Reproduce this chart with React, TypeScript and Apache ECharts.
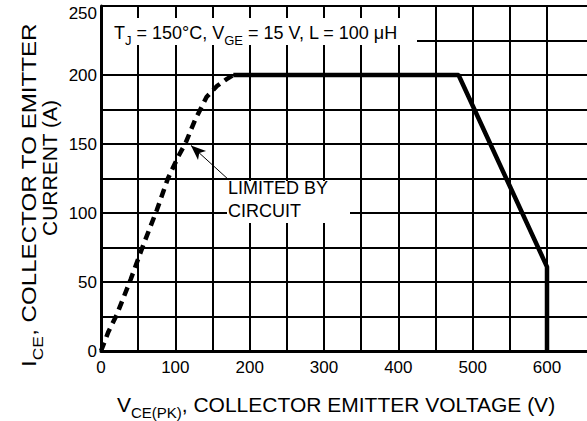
import React, { useEffect, useRef } from 'react';
import * as echarts from 'echarts';

// Circuit-limited (dashed) boundary, V_CE (V) vs I_CE (A)
const circuitLimitV = [0, 10, 21, 40, 57, 75, 90, 104, 114, 127, 142, 156, 169, 178];
const circuitLimitI = [0, 14, 26, 52, 77, 102, 125, 141, 151, 168, 184, 192, 197, 200];
// RBSOA (solid) boundary
const rbsoaV = [178, 481, 600, 600];
const rbsoaI = [200, 200, 61, 0];

const xMin = 0;
const xMax = 600;
const xStep = 50;
const xLabelStep = 100;
const yMin = 0;
const yMax = 250;
const yStep = 25;
const yLabelStep = 50;

const arrowFrom = [172, 124];
const arrowTo = [121, 149];

const FONT = '"Liberation Sans", Arial, Helvetica, sans-serif';

export default function App() {
  const ref = useRef<HTMLDivElement>(null);
  useEffect(() => {
    const chart = echarts.init(ref.current!, null, { renderer: 'svg' });
    const zip = (a: number[], b: number[]) => a.map((v, i) => [v, b[i]]);
    const sub = (fs: number, lh: number) => ({
      fontSize: fs,
      fontFamily: FONT,
      fill: '#000',
      verticalAlign: 'bottom',
      lineHeight: lh,
    });
    const textEl = (
      x: number,
      y: number,
      text: string,
      fs: number,
      align: string,
      rich: any,
      rotation = 0,
      scaleX = 1
    ) => {
      const style: any = {
        text,
        fontSize: fs,
        fontFamily: FONT,
        fill: '#000',
        align,
        verticalAlign: 'middle',
      };
      if (rich) style.rich = rich;
      return { type: 'text', x, y, rotation, scaleX, z: 51, silent: true, style };
    };
    const option: any = {
      animation: false,
      backgroundColor: '#fff',
      grid: [
        { left: 101, right: 40, top: 6, bottom: 70 },
        { left: 547, right: 0, top: 6, bottom: 70 },
      ],
      xAxis: [
        {
          type: 'value',
          gridIndex: 0,
          min: xMin,
          max: xMax,
          interval: xStep,
          axisLine: { show: true, lineStyle: { color: '#000', width: 3 } },
          axisTick: { show: false },
          splitLine: { show: true, lineStyle: { color: '#000', width: 2 } },
          axisLabel: {
            color: '#000',
            fontSize: 17,
            fontFamily: FONT,
            margin: 8,
            formatter: (v: number) => (v % xLabelStep === 0 ? String(v) : ''),
          },
        },
        {
          type: 'value',
          gridIndex: 1,
          min: 0,
          max: 1,
          axisLine: { show: true, lineStyle: { color: '#000', width: 3 } },
          axisTick: { show: false },
          axisLabel: { show: false },
          splitLine: { show: false },
        },
      ],
      yAxis: [
        {
          type: 'value',
          gridIndex: 0,
          min: yMin,
          max: yMax,
          interval: yStep,
          axisLine: { show: true, lineStyle: { color: '#000', width: 3 } },
          axisTick: { show: false },
          splitLine: { show: true, lineStyle: { color: '#000', width: 2 } },
          axisLabel: {
            color: '#000',
            fontSize: 17,
            fontFamily: FONT,
            margin: 4,
            formatter: (v: number) =>
              v % yLabelStep === 0 ? (v === yMax ? '{top|' + v + '}' : String(v)) : '',
            rich: { top: { fontSize: 17, fontFamily: FONT, color: '#000', padding: [14, 0, 0, 0] } },
          },
        },
        {
          type: 'value',
          gridIndex: 1,
          min: yMin,
          max: yMax,
          interval: yStep,
          axisLine: { show: false },
          axisTick: { show: false },
          axisLabel: { show: false },
          splitLine: { show: true, lineStyle: { color: '#000', width: 2 } },
        },
      ],
      series: [
        {
          type: 'line',
          xAxisIndex: 0,
          yAxisIndex: 0,
          data: zip(circuitLimitV, circuitLimitI),
          showSymbol: false,
          z: 5,
          lineStyle: { color: '#000', width: 4.5, type: [9, 6] },
          markLine: {
            silent: true,
            symbol: ['none', 'arrow'],
            symbolSize: [9, 15],
            label: { show: false },
            lineStyle: { color: '#000', width: 1, type: 'solid' },
            data: [[{ coord: arrowFrom }, { coord: arrowTo }]],
          },
        },
        {
          type: 'line',
          xAxisIndex: 0,
          yAxisIndex: 0,
          data: zip(rbsoaV, rbsoaI),
          showSymbol: false,
          z: 5,
          lineStyle: { color: '#000', width: 4.5 },
        },
      ],
      graphic: [
        { type: 'rect', z: 50, silent: true, shape: { x: 103, y: 18, width: 314, height: 27 }, style: { fill: '#fff' } },
        textEl(114, 33, 'T{sub|J} = 150°C, V{sub|GE} = 15 V, L = 100 μH', 18, 'left', {
          sub: sub(13, 28),
        }),
        { type: 'rect', z: 50, silent: true, shape: { x: 227, y: 181, width: 123, height: 42 }, style: { fill: '#fff' } },
        textEl(228, 188, 'LIMITED BY', 18, 'left', null),
        textEl(228, 211, 'CIRCUIT', 18, 'left', null),
        textEl(336, 404, 'V{sub|CE(PK)}, COLLECTOR EMITTER VOLTAGE (V)', 21, 'center', {
          sub: sub(15, 31),
        }),
        textEl(29, 195, 'I{sub|CE}, COLLECTOR TO EMITTER', 21, 'center', { sub: sub(15, 31) }, Math.PI / 2, 1.15),
        textEl(49, 236, 'CURRENT (A)', 21, 'left', null, Math.PI / 2, 1),
      ],
    };
    chart.setOption(option);
    return () => chart.dispose();
  }, []);
  return (
    <div
      ref={ref}
      style={{ position: 'fixed', left: 0, top: 0, width: 587, height: 421, background: '#fff' }}
    />
  );
}
